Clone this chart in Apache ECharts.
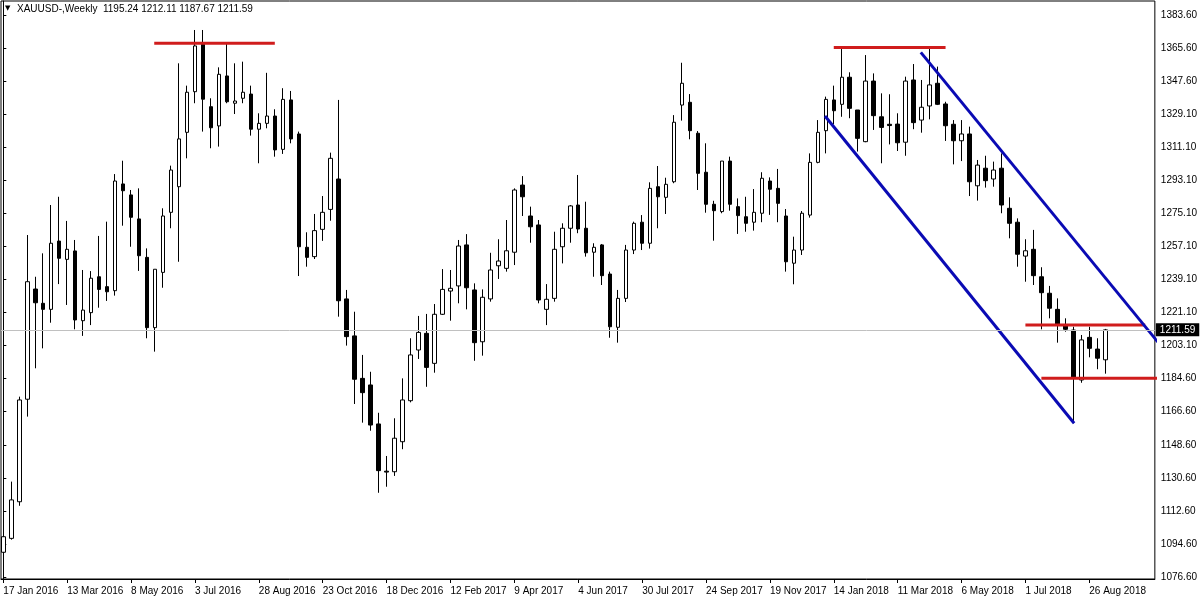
<!DOCTYPE html>
<html><head><meta charset="utf-8">
<script src="https://cdn.jsdelivr.net/npm/echarts@6/dist/echarts.min.js"></script>
<style>html,body{margin:0;padding:0;background:#fff}#c{width:1200px;height:600px}</style>
</head><body><div id="c"></div>
<script>
// ---- data (weekly XAUUSD, week index 0 = 17 Jan 2016) ----
const symbolName = 'XAUUSD-,Weekly';
const xTickIndex = [0, 8, 16, 24, 32, 40, 48, 56, 64, 72, 80, 88, 96, 104, 112, 120, 128, 136];
const xTickLabels = ['17 Jan 2016','13 Mar 2016','8 May 2016','3 Jul 2016','28 Aug 2016','23 Oct 2016','18 Dec 2016','12 Feb 2017','9 Apr 2017','4 Jun 2017','30 Jul 2017','24 Sep 2017','19 Nov 2017','14 Jan 2018','11 Mar 2018','6 May 2018','1 Jul 2018','26 Aug 2018'];
const yTickLabels = ['1076.60','1094.60','1112.60','1130.60','1148.60','1166.60','1184.60','1203.10','1221.10','1239.10','1257.10','1275.10','1293.10','1311.10','1329.10','1347.60','1365.60','1383.60'];

const openP = [1090.1,1097.7,1117.7,1173.7,1233.9,1226.1,1222.8,1260.1,1250.1,1254.7,
1216.6,1221.0,1240.6,1235.2,1233.0,1291.3,1285.3,1272.2,1251.2,1212.8,
1243.0,1275.8,1289.8,1319.5,1341.7,1367.6,1333.5,1323.0,1350.3,1335.4,
1338.1,1340.4,1321.2,1324.4,1328.4,1310.2,1337.2,1318.6,1256.7,1251.6,
1266.5,1277.4,1294.0,1228.5,1208.3,1185.1,1181.5,1160.2,1134.4,1134.1,
1150.5,1172.9,1200.6,1209.7,1193.3,1220.1,1232.8,1235.6,1258.0,1233.4,
1205.1,1228.5,1246.6,1245.2,1254.0,1290.7,1273.8,1268.9,1222.8,1228.8,
1257.0,1267.1,1279.8,1267.1,1254.0,1258.0,1242.1,1213.0,1228.8,1255.2,
1270.4,1258.9,1289.8,1284.0,1292.5,1334.4,1335.9,1319.0,1297.7,1280.2,
1276.2,1303.8,1278.9,1273.4,1270.4,1275.3,1292.9,1288.9,1273.8,1248.0,
1255.2,1274.3,1303.1,1320.4,1337.2,1334.8,1349.6,1331.7,1314.4,1347.5,
1328.0,1323.9,1324.0,1314.1,1348.1,1326.2,1333.9,1346.3,1335.0,1323.9,
1314.9,1318.6,1290.3,1299.9,1294.0,1299.9,1278.0,1270.4,1251.9,1255.6,
1240.6,1231.6,1222.8,1213.7,1211.5,1184.2,1207.5,1201.1,1195.24];
const highP = [1110.5,1128.7,1175.1,1263.4,1240.6,1253.4,1279.8,1284.3,1271.1,1260.7,
1244.3,1243.7,1262.9,1270.7,1296.7,1304.0,1288.0,1288.9,1256.1,1244.7,
1278.0,1301.3,1357.2,1345.0,1375.4,1375.4,1338.1,1355.0,1368.1,1357.2,
1358.1,1345.0,1329.9,1352.0,1332.1,1343.6,1342.1,1319.9,1264.9,1274.9,
1284.7,1308.4,1337.2,1233.4,1221.5,1197.9,1188.7,1166.3,1142.7,1163.3,
1185.1,1207.0,1219.2,1220.3,1225.7,1244.8,1244.3,1260.7,1263.9,1237.0,
1233.7,1253.7,1261.1,1271.6,1288.9,1295.6,1278.9,1271.6,1236.6,1265.2,
1269.8,1279.8,1296.2,1281.6,1258.9,1258.5,1243.4,1233.4,1258.0,1270.7,
1274.3,1292.2,1301.1,1294.7,1328.9,1357.5,1340.4,1320.2,1313.5,1282.1,
1303.8,1306.2,1283.4,1284.3,1288.5,1297.7,1294.9,1299.5,1277.6,1262.5,
1276.5,1308.0,1326.2,1339.0,1345.0,1365.0,1352.3,1331.7,1361.7,1351.7,
1340.8,1340.3,1329.9,1349.9,1356.8,1348.1,1365.4,1355.4,1336.2,1326.2,
1326.2,1322.6,1304.4,1306.7,1303.5,1308.0,1284.0,1272.5,1261.1,1266.2,
1245.8,1235.6,1228.8,1217.9,1213.3,1208.8,1213.3,1207.0,1212.11];
const lowP = [1083.2,1097.0,1115.5,1164.2,1190.6,1201.5,1215.5,1236.6,1225.2,1211.9,
1208.3,1214.2,1223.7,1227.4,1230.3,1268.5,1257.0,1243.8,1207.0,1199.7,
1234.6,1267.1,1248.8,1305.3,1335.4,1319.9,1310.8,1311.7,1335.4,1329.5,
1335.4,1317.7,1302.6,1321.7,1306.2,1307.7,1313.5,1241.0,1246.1,1250.3,
1260.2,1271.2,1218.8,1203.0,1171.1,1160.9,1156.5,1122.6,1125.9,1131.8,
1146.4,1172.0,1195.7,1180.5,1188.2,1219.7,1216.6,1226.1,1222.8,1194.7,
1197.5,1227.0,1239.4,1243.4,1247.0,1273.8,1259.2,1226.1,1214.2,1227.0,
1247.9,1259.2,1264.4,1251.6,1240.6,1236.1,1207.3,1204.6,1226.8,1253.0,
1255.2,1256.0,1267.1,1274.9,1291.7,1325.9,1315.7,1288.0,1275.6,1260.3,
1275.3,1276.7,1264.0,1265.2,1265.8,1270.4,1274.4,1270.4,1243.4,1236.5,
1252.5,1272.9,1302.6,1308.0,1323.9,1328.0,1327.2,1309.0,1314.1,1320.8,
1302.6,1312.9,1309.3,1306.7,1321.2,1319.3,1326.6,1334.4,1314.8,1302.0,
1303.8,1284.7,1282.2,1289.3,1289.8,1275.3,1261.6,1246.1,1237.9,1236.1,
1211.9,1217.9,1204.6,1210.6,1160.6,1182.7,1196.6,1190.1,1187.67];
const closeP = [1098.6,1118.7,1173.3,1237.9,1226.4,1222.8,1258.9,1250.7,1255.6,1217.0,
1222.4,1239.8,1233.7,1232.4,1292.9,1287.6,1273.1,1252.1,1212.8,1244.7,
1273.8,1298.9,1315.9,1341.4,1366.7,1337.6,1322.0,1351.2,1336.2,1336.6,
1341.4,1321.2,1324.4,1328.4,1309.9,1337.5,1315.9,1257.0,1251.2,1265.8,
1275.8,1305.3,1227.5,1207.9,1184.6,1177.3,1159.6,1134.7,1133.9,1152.4,
1173.3,1197.9,1210.2,1191.1,1220.1,1233.7,1234.3,1257.4,1234.6,1204.6,
1229.4,1244.3,1249.2,1254.8,1288.0,1284.3,1267.9,1227.9,1228.3,1255.6,
1267.1,1279.3,1266.7,1253.7,1256.7,1241.2,1213.3,1228.8,1255.2,1269.8,
1258.9,1288.9,1284.3,1291.1,1325.0,1346.3,1320.4,1297.1,1280.2,1276.7,
1303.8,1280.2,1274.0,1269.8,1275.8,1294.4,1288.4,1280.7,1248.8,1255.2,
1275.3,1303.1,1319.5,1337.5,1331.3,1349.6,1332.6,1316.2,1347.5,1328.6,
1322.2,1323.2,1313.8,1347.5,1324.8,1333.2,1345.4,1334.8,1323.1,1314.9,
1318.6,1292.5,1301.6,1293.1,1298.9,1279.8,1269.8,1252.9,1254.8,1241.2,
1231.9,1223.4,1214.8,1211.9,1185.7,1206.1,1201.5,1196.1,1211.59];

// drawn objects: [weekIndex, price] end points
const redLines = [
  [[18.9, 1368.1], [34.0, 1368.1]],
  [[104.0, 1365.9], [118.0, 1365.9]],
  [[128.0, 1214.2], [143.0, 1214.2]],
  [[130.0, 1185.1], [146.0, 1185.1]]
];
const blueLines = [
  [[102.9, 1328.4], [134.1, 1160.6]],
  [[114.9, 1363.2], [146.0, 1197.4]]
];

// ---- chart ----
const n = openP.length;
const candles = openP.map((o, i) => [i, o, closeP[i], lowP[i], highP[i]]);
const last = n - 1;
const yFirst = parseFloat(yTickLabels[0]);
const yLast = parseFloat(yTickLabels[yTickLabels.length - 1]);
const yStep = (yLast - yFirst) / (yTickLabels.length - 1);
const yTickValues = yTickLabels.map((s, i) => yFirst + i * yStep);

const font = 'Liberation Sans, Arial, sans-serif';
const series = [
  {
    type: 'line', data: [[0, closeP[last]]], showSymbol: false, silent: true, z: 1,
    lineStyle: { opacity: 0 },
    markLine: {
      silent: true, symbol: ['none', 'none'], animation: false,
      lineStyle: { color: '#c0c0c0', width: 1, type: 'solid' },
      label: {
        show: true, position: 'end', distance: 1,
        formatter: closeP[last].toFixed(2),
        backgroundColor: '#000', color: '#fff', fontSize: 10, fontFamily: font,
        padding: [2, 4, 1, 4]
      },
      data: [{ yAxis: closeP[last] }]
    }
  },
  {
    type: 'candlestick', data: candles, z: 2, barWidth: 4,
    encode: { x: 0, y: [1, 2, 3, 4] },
    itemStyle: { color: '#fff', color0: '#000', borderColor: '#000', borderColor0: '#000', borderWidth: 1 }
  }
];
redLines.forEach(l => series.push({
  type: 'line', data: l, showSymbol: false, silent: true, z: 3, clip: true,
  lineStyle: { color: '#d01c1c', width: 3 }
}));
blueLines.forEach(l => series.push({
  type: 'line', data: l, showSymbol: false, silent: true, z: 3, clip: true,
  lineStyle: { color: '#0a0ab4', width: 3 }
}));

const chart = echarts.init(document.getElementById('c'), null, { renderer: 'canvas' });
chart.setOption({
  animation: false,
  backgroundColor: '#fff',
  grid: { left: 1, top: 1, right: 43, bottom: 21, show: true, borderColor: '#000', borderWidth: 1, backgroundColor: '#fff' },
  graphic: [
    { type: 'text', left: 5, top: 5, style: { text: '\u25BC', fontSize: 7, fill: '#000', fontFamily: 'DejaVu Sans' } },
    { type: 'text', left: 17, top: 4, style: {
      text: symbolName + '  ' + [openP[last], highP[last], lowP[last], closeP[last]].map(v => v.toFixed(2)).join(' '),
      fontSize: 10, fill: '#000', fontFamily: font } }
  ],
  xAxis: {
    type: 'value', min: -0.29, max: 144.21,
    axisLine: { show: true, lineStyle: { color: '#000', width: 1 } },
    axisTick: { show: true, customValues: xTickIndex, length: 4, lineStyle: { color: '#000' } },
    axisLabel: {
      customValues: xTickIndex, align: 'left', margin: 7, fontSize: 10, color: '#000', fontFamily: font,
      formatter: v => xTickLabels[xTickIndex.indexOf(Math.round(v))] || ''
    },
    splitLine: { show: false }
  },
  yAxis: {
    type: 'value', position: 'right', min: 1075.50, max: 1391.24, scale: true,
    axisLine: { show: true, lineStyle: { color: '#000', width: 1 } },
    axisTick: { show: true, customValues: yTickValues, length: 3, lineStyle: { color: '#000' } },
    axisLabel: {
      customValues: yTickValues, margin: 6, fontSize: 10, color: '#000', fontFamily: font,
      formatter: v => yTickLabels[Math.round((v - yFirst) / yStep)] || ''
    },
    splitLine: { show: false }
  },
  series: series
});
</script>
</body></html>
